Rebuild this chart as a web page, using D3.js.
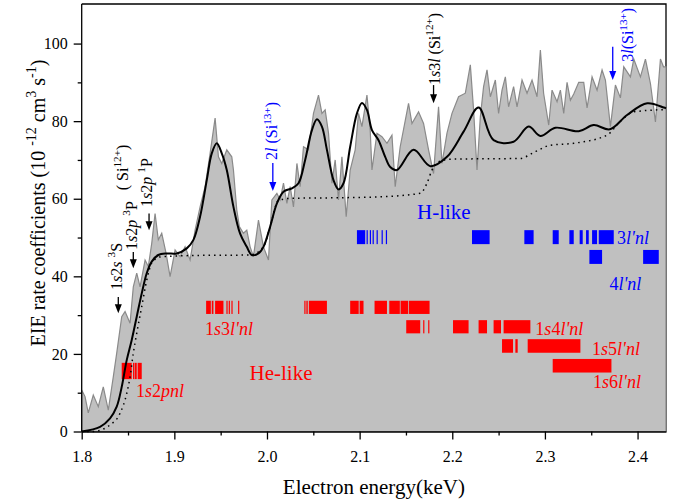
<!DOCTYPE html>
<html>
<head>
<meta charset="utf-8">
<script src="https://cdn.jsdelivr.net/npm/d3@7"></script>
<style>
body { margin: 0; background: #fff; }
text { font-family: "Liberation Serif", "Times New Roman", serif; }
</style>
</head>
<body>
<div id="chart"></div>
<script>
const width = 680;
const height = 504;
const margin = { top: 4, right: 14, bottom: 72.5, left: 81.7 };

// measured spectrum (gray), theory (solid) and direct excitation (dotted)
const spectrum = [[1.800,10.7],[1.8036,9.0],[1.8071,4.8],[1.8125,9.4],[1.8179,6.4],[1.8233,11.5],[1.8287,5.5],[1.8341,14.1],[1.8378,20.2],[1.8432,29.6],[1.8468,30.9],[1.8522,27.9],[1.8557,37.3],[1.8594,40.8],[1.8630,37.3],[1.8684,44.2],[1.8719,42.5],[1.8756,48.5],[1.8792,56.2],[1.8827,49.4],[1.8864,51.1],[1.8911,45.9],[1.8954,39.9],[1.9008,46.8],[1.9062,45.1],[1.9116,47.6],[1.9170,44.2],[1.9224,51.9],[1.9278,57.9],[1.9332,63.1],[1.9386,71.7],[1.9440,80.8],[1.9476,70.8],[1.9512,69.1],[1.9566,72.6],[1.9620,70.8],[1.9638,67.4],[1.9674,57.1],[1.9702,52.8],[1.9746,51.1],[1.9782,51.9],[1.9818,47.6],[1.9854,45.1],[1.9908,54.5],[1.9962,47.6],[2.0016,44.2],[2.0053,59.7],[2.0107,61.4],[2.0142,59.7],[2.0178,64.0],[2.0215,58.8],[2.0250,63.1],[2.0286,57.9],[2.0323,69.1],[2.0358,63.1],[2.0394,73.4],[2.0448,72.6],[2.0502,82.0],[2.0556,86.7],[2.0593,82.0],[2.0628,82.9],[2.0664,76.9],[2.0701,64.0],[2.0736,70.0],[2.0772,59.7],[2.0809,70.8],[2.0855,55.4],[2.0898,67.4],[2.0952,72.6],[2.0988,82.0],[2.1025,78.6],[2.1079,86.7],[2.1114,77.7],[2.1133,67.4],[2.1187,76.9],[2.1241,76.0],[2.1295,74.3],[2.1349,76.4],[2.1384,63.1],[2.1438,73.4],[2.1528,84.6],[2.1565,79.4],[2.1636,82.4],[2.1690,79.4],[2.1744,72.6],[2.1798,66.5],[2.1852,83.7],[2.1889,69.1],[2.1943,76.9],[2.1997,82.0],[2.2068,86.3],[2.2141,87.2],[2.2195,94.5],[2.2230,82.9],[2.2267,67.4],[2.2303,81.1],[2.2338,88.9],[2.2375,93.2],[2.2411,86.3],[2.2465,90.6],[2.2500,82.0],[2.2537,88.0],[2.2573,91.4],[2.2608,83.7],[2.2662,88.9],[2.2699,83.7],[2.2753,90.6],[2.2807,87.2],[2.2861,90.6],[2.2915,86.3],[2.2951,98.3],[2.2986,87.2],[2.3041,79.0],[2.3077,88.0],[2.3131,85.0],[2.3167,88.0],[2.3203,82.0],[2.3239,90.0],[2.3275,85.4],[2.3311,87.0],[2.3365,90.0],[2.3419,90.0],[2.3455,83.4],[2.3509,91.4],[2.3563,88.0],[2.3617,93.2],[2.3653,90.6],[2.3707,78.6],[2.3761,89.3],[2.3815,86.0],[2.3851,94.0],[2.3923,91.4],[2.3959,96.0],[2.4031,91.4],[2.4085,96.0],[2.4139,89.7],[2.4193,79.8],[2.4247,96.0],[2.4280,94.0],[2.4307,94.0]];

const theory = [[1.800,0],[1.8198,1.2],[1.8306,3.4],[1.8378,6.4],[1.8432,11.5],[1.8486,18.4],[1.8540,23.6],[1.8594,29.6],[1.8648,35.6],[1.8702,40.8],[1.8756,43.8],[1.8827,45.5],[1.8918,45.9],[1.9026,45.9],[1.9134,47.2],[1.9206,49.4],[1.9278,55.4],[1.9350,64.8],[1.9404,71.7],[1.9458,74.3],[1.9512,71.7],[1.9566,67.4],[1.9638,57.9],[1.9710,51.0],[1.9782,47.6],[1.9836,45.5],[1.9908,45.9],[1.9962,47.6],[2.0034,52.8],[2.0107,58.8],[2.0178,61.8],[2.0269,62.7],[2.0340,64.0],[2.0412,70.0],[2.0485,77.7],[2.0539,80.5],[2.0593,78.6],[2.0647,72.6],[2.0718,64.8],[2.0772,62.4],[2.0826,64.0],[2.0898,73.4],[2.0971,82.0],[2.1025,84.7],[2.1079,82.9],[2.1133,77.7],[2.1204,75.1],[2.1276,70.8],[2.1330,68.2],[2.1403,67.4],[2.1582,72.6],[2.1763,68.4],[2.1943,70.8],[2.2122,77.3],[2.2284,83.5],[2.2446,75.1],[2.2662,74.7],[2.2824,78.6],[2.2951,76.2],[2.3113,78.3],[2.3365,77.4],[2.3527,79.0],[2.3700,77.9],[2.3887,81.6],[2.4104,84.6],[2.4283,83.5],[2.4307,83.3]];

const direct = [[1.800,0],[1.8125,0],[1.8306,1.7],[1.8414,4.7],[1.8486,9.8],[1.8522,14.1],[1.8557,20.2],[1.8594,25.3],[1.8648,32.2],[1.8702,39.0],[1.8756,43.4],[1.8846,45.0],[1.928,45.4],[1.9819,45.5],[1.9962,47.6],[2.0034,52.8],[2.0121,59.5],[2.0250,60.1],[2.0898,60.3],[2.1222,60.5],[2.1654,61.4],[2.1727,64.0],[2.1781,67.4],[2.1852,69.5],[2.1979,70.2],[2.2735,70.4],[2.2878,71.9],[2.3059,73.8],[2.3311,74.3],[2.3671,76.4],[2.3815,80.0],[2.3959,82.4],[2.4307,83.0]];

// resonance positions, [E start, E end] in keV
const he1s2 = [[1.8432,1.8540],[1.8554,1.8562],[1.8572,1.8594],[1.8604,1.8648]];
const he1s3 = [[1.9343,1.9394],[1.9404,1.9422],[1.9440,1.9530],[1.9562,1.9570],[1.9587,1.9595],[1.9616,1.9624],[1.9688,1.9696],[2.0403,2.0411],[2.0425,2.0440],[2.0452,2.0647],[2.0898,2.0990],[2.1000,2.1042],[2.1161,2.1295],[2.1320,2.1434],[2.1442,2.1524],[2.1532,2.1755]];
const he1s4 = [[2.1503,2.1654],[2.1686,2.1694],[2.1740,2.1748],[2.2008,2.2176],[2.2284,2.2375],[2.2446,2.2526],[2.2554,2.2843]];
const he1s5 = [[2.2537,2.2656],[2.2681,2.2706],[2.2814,2.3383]];
const he1s6 = [[2.3084,2.3718]];
const h3l = [[2.0971,2.1060],[2.1075,2.1083],[2.1110,2.1118],[2.1140,2.1148],[2.1183,2.1191],[2.1237,2.1245],[2.1283,2.1291],[2.2213,2.2403],[2.2778,2.2878],[2.3084,2.3149],[2.3264,2.3311],[2.3375,2.3408],[2.3444,2.3473],[2.3509,2.3563],[2.3581,2.3743]];
const h4l = [[2.3480,2.3617],[2.4060,2.4229]];

const xTicks = [1.8, 1.9, 2.0, 2.1, 2.2, 2.3, 2.4];
const xMinor = [1.85, 1.95, 2.05, 2.15, 2.25, 2.35];
const yTicks = [0, 20, 40, 60, 80, 100];
const yMinor = [10, 30, 50, 70, 90];

const red = "#ff0000", blue = "#0000ff";

const svg = d3.select("#chart").append("svg")
  .attr("width", width).attr("height", height);

const x = d3.scaleLinear().domain([1.8, 2.4307]).range([margin.left, width - margin.right]);
const y = d3.scaleLinear().domain([0, 110.2]).range([height - margin.bottom, margin.top]);

// frame (top + right), drawn under the fill
svg.append("path")
  .attr("d", `M${x(1.8)},${y(110.2)}H${x(2.4307)}V${y(0)}`)
  .attr("fill", "none").attr("stroke", "#000").attr("stroke-width", 1.3);

svg.append("path")
  .datum(spectrum)
  .attr("fill", "#c0c0c0")
  .attr("stroke", "#8a8a8a")
  .attr("stroke-width", 1.2)
  .attr("d", d3.area().x(d => x(d[0])).y0(y(0)).y1(d => y(d[1])));

const bands = [
  { data: he1s2, lo: 13.5, hi: 17.7, color: red },
  { data: he1s3, lo: 30.3, hi: 33.7, color: red },
  { data: he1s4, lo: 25.3, hi: 28.7, color: red },
  { data: he1s5, lo: 20.3, hi: 23.8, color: red },
  { data: he1s6, lo: 15.2, hi: 18.7, color: red },
  { data: h3l, lo: 48.3, hi: 51.9, color: blue },
  { data: h4l, lo: 43.2, hi: 46.8, color: blue }
];
bands.forEach(b => {
  svg.append("g").selectAll("rect")
    .data(b.data).enter().append("rect")
    .attr("x", d => x(d[0]))
    .attr("width", d => Math.max(1.2, x(d[1]) - x(d[0])))
    .attr("y", y(b.hi))
    .attr("height", y(b.lo) - y(b.hi))
    .attr("fill", b.color);
});

svg.append("path")
  .datum(direct)
  .attr("fill", "none").attr("stroke", "#000")
  .attr("stroke-width", 1.5).attr("stroke-dasharray", "1.5,4")
  .attr("d", d3.line().x(d => x(d[0])).y(d => y(d[1])).curve(d3.curveMonotoneX));

svg.append("path")
  .datum(theory)
  .attr("fill", "none").attr("stroke", "#000").attr("stroke-width", 2)
  .attr("d", d3.line().x(d => x(d[0])).y(d => y(d[1])).curve(d3.curveCatmullRom));

// axes
svg.append("g").attr("transform", `translate(0,${y(0)})`)
  .call(d3.axisBottom(x).tickValues(xTicks).tickFormat(d3.format(".1f")).tickSize(8).tickSizeOuter(0).tickPadding(11));
svg.append("g").attr("transform", `translate(0,${y(0)})`)
  .call(d3.axisBottom(x).tickValues(xMinor).tickFormat("").tickSize(4).tickSizeOuter(0))
  .select(".domain").remove();
const yAxis = svg.append("g").attr("transform", `translate(${x(1.8)},0)`)
  .call(d3.axisLeft(y).tickValues(yTicks).tickSize(8).tickSizeOuter(0).tickPadding(6));
svg.append("g").attr("transform", `translate(${x(1.8)},0)`)
  .call(d3.axisLeft(y).tickValues(yMinor).tickFormat("").tickSize(4).tickSizeOuter(0))
  .select(".domain").remove();
svg.selectAll(".tick line, .domain").attr("stroke-width", 1.3);
svg.selectAll(".tick text")
  .attr("font-family", "Liberation Serif, serif").attr("font-size", 16).attr("fill", "#000");
yAxis.select(".domain").attr("d", `M0,${y(0)}V${y(110.2)}`);

function rich(g, parts, size, color) {
  const t = g.append("text").attr("font-size", size).attr("fill", color);
  let up = 0;
  parts.forEach(p => {
    const s = t.append("tspan").text(p[0]);
    const sup = p[1] === "s";
    if (p[1] === "i") s.attr("font-style", "italic");
    const shift = sup ? -size * 0.42 : 0;
    if (shift !== up) { s.attr("dy", shift - up); up = shift; }
    if (sup) s.attr("font-size", size * 0.7);
  });
  return t;
}

// axis titles
rich(svg.append("g").attr("transform", `translate(${x(1.8) - 37},203) rotate(-90)`),
  [["EIE rate coefficients (10 "], ["-12", "s"], [" cm"], ["3", "s"], [" s"], ["-1", "s"], [")"]], 20, "#000")
  .attr("text-anchor", "middle");
rich(svg.append("g").attr("transform", `translate(${(x(1.8) + x(2.4307)) / 2},494)`),
  [["Electron energy(keV)"]], 21, "#000").attr("text-anchor", "middle");

// horizontal labels
const labels = [
  { e: 1.8587, v: 9.0, parts: [["1"], ["s", "i"], ["2"], ["pnl", "i"]], size: 18, color: red },
  { e: 1.9332, v: 24.9, parts: [["1"], ["s", "i"], ["3"], ["l'nl", "i"]], size: 18, color: red },
  { e: 2.2897, v: 24.9, parts: [["1"], ["s", "i"], ["4"], ["l'nl", "i"]], size: 18, color: red },
  { e: 2.3509, v: 19.7, parts: [["1"], ["s", "i"], ["5"], ["l'nl", "i"]], size: 18, color: red },
  { e: 2.3520, v: 11.3, parts: [["1"], ["s", "i"], ["6"], ["l'nl", "i"]], size: 18, color: red },
  { e: 2.3779, v: 48.3, parts: [["3"], ["l'nl", "i"]], size: 18, color: blue },
  { e: 2.3696, v: 36.5, parts: [["4"], ["l'nl", "i"]], size: 18, color: blue },
  { e: 1.9811, v: 13.3, parts: [["He-like"]], size: 21, color: red },
  { e: 2.1619, v: 54.9, parts: [["H-like"]], size: 21, color: blue }
];
labels.forEach(l => rich(svg.append("g").attr("transform", `translate(${x(l.e)},${y(l.v)})`), l.parts, l.size, l.color));

// vertical labels (read bottom to top)
const vlabels = [
  { e: 1.8435, v: 36.5, parts: [["1"], ["s", "i"], ["2"], ["s", "i"], [" "], ["3", "s"], ["S"]], color: "#000" },
  { e: 1.8597, v: 46.8, parts: [["1"], ["s", "i"], ["2"], ["p", "i"], [" "], ["3", "s"], ["P"]], color: "#000" },
  { e: 1.8759, v: 57.9, parts: [["1"], ["s", "i"], ["2"], ["p", "i"], [" "], ["1", "s"], ["P"]], color: "#000" },
  { e: 1.8500, v: 62.2, parts: [["( Si"], ["12+", "s"], [")"]], color: "#000" },
  { e: 2.1869, v: 89.3, parts: [["1"], ["s", "i"], ["3"], ["l", "i"], [" (Si"], ["12+", "s"], [")"]], color: "#000" },
  { e: 2.0112, v: 70.0, parts: [["2"], ["l", "i"], [" (Si"], ["13+", "s"], [")"]], color: blue },
  { e: 2.3956, v: 95.3, parts: [["3"], ["l", "i"], ["(Si"], ["13+", "s"], [")"]], color: blue }
];
vlabels.forEach(l => rich(svg.append("g").attr("transform", `translate(${x(l.e)},${y(l.v)}) rotate(-90)`), l.parts, 16, l.color));

// arrows: energy, top value, tip value
const arrows = [
  { e: 1.8395, v0: 34.7, v1: 30.5, color: "#000" },
  { e: 1.8557, v0: 46.3, v1: 42.1, color: "#000" },
  { e: 1.8727, v0: 56.2, v1: 51.9, color: "#000" },
  { e: 2.1798, v0: 89.3, v1: 84.6, color: "#000" },
  { e: 2.0063, v0: 69.2, v1: 62.0, color: blue },
  { e: 2.3732, v0: 99.2, v1: 90.6, color: blue }
];
arrows.forEach(a => {
  const ax = x(a.e), y0 = y(a.v0), y1 = y(a.v1);
  svg.append("line").attr("x1", ax).attr("x2", ax).attr("y1", y0).attr("y2", y1 - 6)
    .attr("stroke", a.color).attr("stroke-width", 1.3);
  svg.append("path").attr("d", `M${ax - 3.5},${y1 - 9}L${ax + 3.5},${y1 - 9}L${ax},${y1}Z`)
    .attr("fill", a.color);
});
</script>
</body>
</html>
